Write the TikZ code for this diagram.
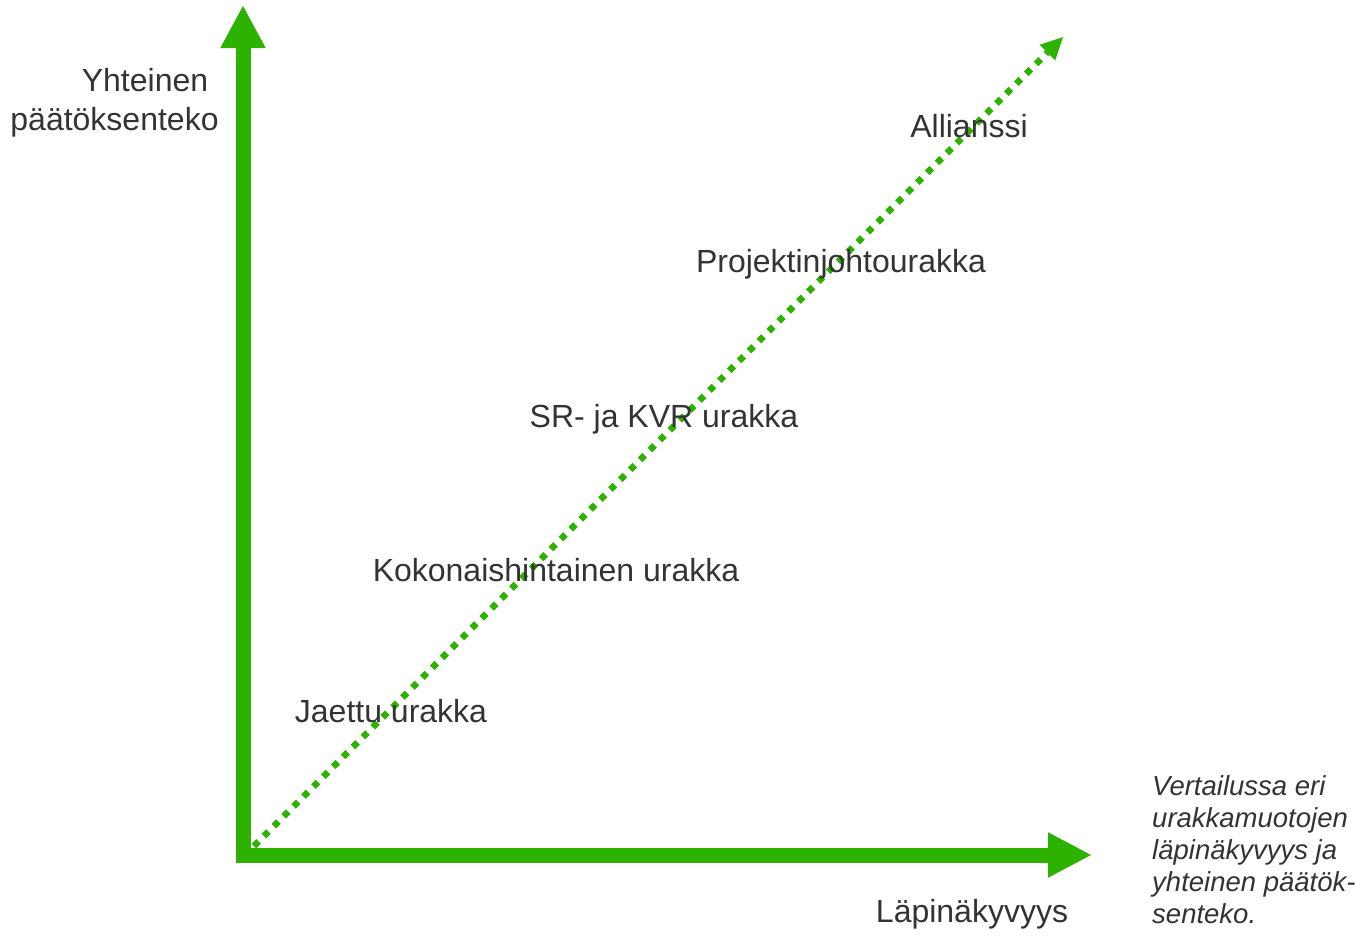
\documentclass[tikz,border=0pt]{standalone}
\usepackage{fontspec}
\setmainfont{Liberation Sans}
\usetikzlibrary{arrows.meta}
\definecolor{axisgreen}{RGB}{46,178,0}
\definecolor{txt}{RGB}{51,51,51}
\tikzset{
  lbl/.style={text=txt, font=\fontsize{32}{37}\selectfont, inner sep=0pt, anchor=base},
  axisline/.style={draw=axisgreen, line width=15pt, line join=miter,
     {Triangle[length=43pt,width=42pt]}-{Triangle[length=44pt,width=42pt]}},
  dotline/.style={draw=axisgreen, line width=6.5pt, dash pattern=on 6.5pt off 7.5pt,
     -{Triangle[length=22pt,width=22pt,line width=0pt]}}
}
\begin{document}
\begin{tikzpicture}[x=1pt,y=-1pt]
\useasboundingbox (0,0) rectangle (1355,935);
\coordinate (ytip) at (243,5);
\coordinate (origin) at (243,855);
\coordinate (xtip) at (1092,855);
\coordinate (dstart) at (254,846);
\coordinate (dtip) at (1063,37);
\draw[axisline] (ytip) -- (origin) -- (xtip);
\draw[dotline] (dstart) -- (dtip);
\node[lbl] (yl1) at (145,91) {Yhteinen};
\node[lbl] (yl2) at (114.5,130) {päätöksenteko};
\node[lbl] (xl) at (972,922) {Läpinäkyvyys};
\node[lbl] (all) at (969,137) {Allianssi};
\node[lbl] (pjo) at (841,272) {Projektinjohtourakka};
\node[lbl] (srk) at (664,427) {SR- ja KVR urakka};
\node[lbl] (kok) at (556,581) {Kokonaishintainen urakka};
\node[lbl] (jae) at (391,722) {Jaettu urakka};
\node[text=txt, font=\fontsize{27.5}{32}\selectfont\itshape, inner sep=0pt, anchor=base west, align=left] (cap) at (1152,923)
  {Vertailussa eri\\urakkamuotojen\\läpinäkyvyys ja\\yhteinen päätök-\\senteko.};
\end{tikzpicture}
\end{document}
